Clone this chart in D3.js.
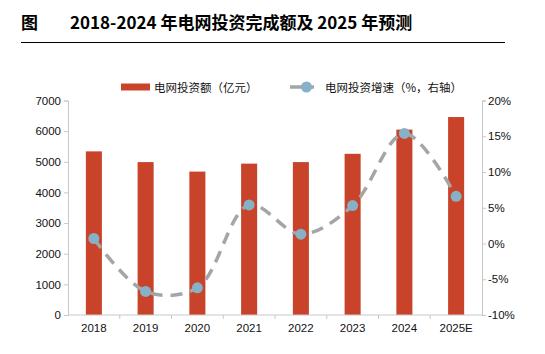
<!DOCTYPE html>
<html>
<head>
<meta charset="utf-8">
<script src="https://cdn.jsdelivr.net/npm/d3@7"></script>
<style>
  body { margin: 0; background: #fff; }
  text { font-family: "Liberation Sans", Arial, sans-serif; }
  .cjk { font-family: "Noto Sans CJK SC", sans-serif; }
</style>
</head>
<body>
<svg width="545" height="354"></svg>
<script>
// chart data
var years = ["2018", "2019", "2020", "2021", "2022", "2023", "2024", "2025E"];
var investment = [5340, 4990, 4680, 4940, 4990, 5260, 6050, 6460];
var growth = [0.7, -6.7, -6.2, 5.4, 1.3, 5.3, 15.4, 6.6];
var leftTicks = [0, 1000, 2000, 3000, 4000, 5000, 6000, 7000];
var rightTicks = [-10, -5, 0, 5, 10, 15, 20];

var svg = d3.select("svg"),
    width = +svg.attr("width"),
    height = +svg.attr("height");

var plotLeft = 68, plotRight = 482, plotTop = 100.5, plotBottom = 315;

// title
svg.append("text")
    .attr("class", "cjk")
    .attr("x", 21).attr("y", 29)
    .attr("font-size", 17).attr("font-weight", "bold")
    .text("图");
svg.append("text")
    .attr("class", "cjk")
    .attr("x", 70).attr("y", 29)
    .attr("font-size", 17).attr("font-weight", "bold")
    .text("2018-2024 年电网投资完成额及 2025 年预测");
svg.append("line")
    .attr("x1", 21).attr("x2", 505)
    .attr("y1", 42.5).attr("y2", 42.5)
    .attr("stroke", "#000").attr("stroke-width", 1);

// scales
var x = d3.scaleBand().domain(years).range([plotLeft, plotRight]).paddingInner(0.69).paddingOuter(0.345);
var xb = d3.scaleBand().domain(years).range([plotLeft, plotRight]);
var y = d3.scaleLinear().domain([0, 7000]).range([plotBottom, plotTop]);
var y2 = d3.scaleLinear().domain([-10, 20]).range([plotBottom, plotTop]);

// bars
svg.append("g")
    .selectAll("rect")
    .data(investment)
    .enter().append("rect")
    .attr("x", (d, i) => x(years[i]))
    .attr("width", x.bandwidth())
    .attr("y", d => y(d))
    .attr("height", d => plotBottom - y(d))
    .attr("fill", "#c8432a");

// axes
var axisColor = "#c8c8c8";
var gl = svg.append("g").attr("transform", "translate(" + plotLeft + ",0)")
    .call(d3.axisLeft(y).tickValues(leftTicks).tickSize(4).tickPadding(3).tickFormat(d => d));
gl.select(".domain").attr("stroke", axisColor);
gl.selectAll(".tick line").attr("stroke", axisColor);
gl.selectAll("text").attr("font-size", 11.5).attr("fill", "#111");

var gr = svg.append("g").attr("transform", "translate(" + plotRight + ",0)")
    .call(d3.axisRight(y2).tickValues(rightTicks).tickSize(4).tickPadding(2).tickFormat(d => d + "%"));
gr.select(".domain").attr("stroke", axisColor);
gr.selectAll(".tick line").attr("stroke", axisColor);
gr.selectAll("text").attr("font-size", 11.5).attr("fill", "#111");

var gb = svg.append("g").attr("transform", "translate(0," + plotBottom + ")");
gb.append("line").attr("x1", plotLeft).attr("x2", plotRight).attr("stroke", axisColor);
gb.selectAll("line.tk")
    .data(years.slice(1))
    .enter().append("line")
    .attr("class", "tk")
    .attr("x1", d => xb(d)).attr("x2", d => xb(d))
    .attr("y1", 0).attr("y2", 4)
    .attr("stroke", axisColor);
gb.selectAll("text")
    .data(years)
    .enter().append("text")
    .attr("x", d => xb(d) + xb.bandwidth() / 2)
    .attr("y", 17)
    .attr("text-anchor", "middle")
    .attr("font-size", 11.5).attr("fill", "#111")
    .text(d => d);

// growth line
var line = d3.line()
    .x((d, i) => xb(years[i]) + xb.bandwidth() / 2)
    .y(d => y2(d))
    .curve(d3.curveCatmullRom.alpha(0.5));
svg.append("path")
    .datum(growth)
    .attr("d", line)
    .attr("fill", "none")
    .attr("stroke", "#a5a5a5")
    .attr("stroke-width", 3.5)
    .attr("stroke-dasharray", "12,8");
svg.append("g")
    .selectAll("circle")
    .data(growth)
    .enter().append("circle")
    .attr("cx", (d, i) => xb(years[i]) + xb.bandwidth() / 2)
    .attr("cy", d => y2(d))
    .attr("r", 5.5)
    .attr("fill", "#86b1c6");

// legend
var lg = svg.append("g");
lg.append("rect").attr("x", 121).attr("y", 83.5).attr("width", 29).attr("height", 7).attr("fill", "#c8432a");
lg.append("text").attr("class", "cjk").attr("x", 154).attr("y", 91.5).attr("font-size", 11.5).attr("fill", "#111")
    .text("电网投资额（亿元）");
lg.append("line").attr("x1", 290).attr("x2", 314).attr("y1", 87).attr("y2", 87)
    .attr("stroke", "#a5a5a5").attr("stroke-width", 3.5);
lg.append("circle").attr("cx", 306.5).attr("cy", 87).attr("r", 5.5).attr("fill", "#86b1c6");
lg.append("text").attr("class", "cjk").attr("x", 325).attr("y", 91.5).attr("font-size", 11.5).attr("fill", "#111")
    .text("电网投资增速（%，右轴）");
</script>
</body>
</html>
